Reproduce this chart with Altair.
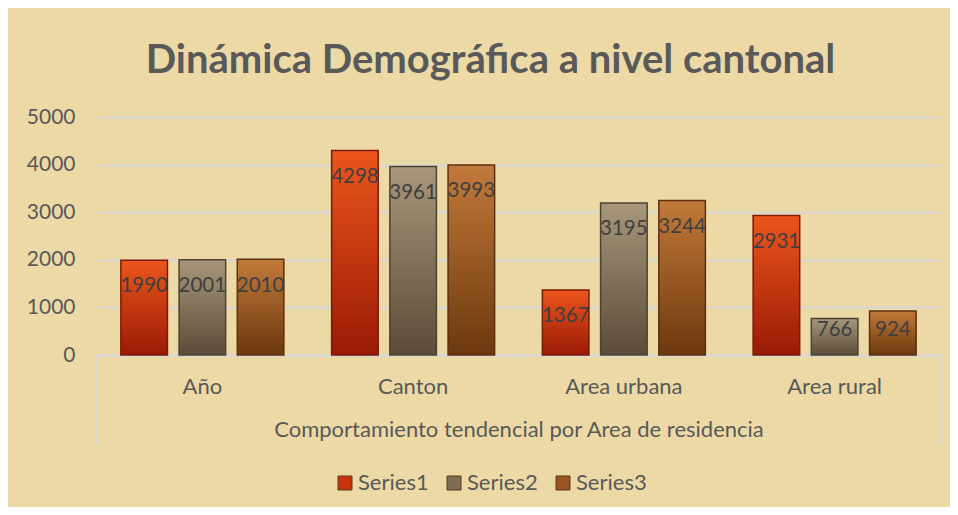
import altair as alt
import pandas as pd

categories = ["Año", "Canton", "Area urbana", "Area rural"]
series_names = ["Series1", "Series2", "Series3"]
series1 = [1990, 4298, 1367, 2931]
series2 = [2001, 3961, 3195, 766]
series3 = [2010, 3993, 3244, 924]
y_ticks = [0, 1000, 2000, 3000, 4000, 5000]

solid = ["#C8320F", "#7D6D55", "#9A5520"]
grad = {
    "Series1": ("#EC561C", "#9A1A06", "#7A1A08"),
    "Series2": ("#A8977B", "#5A4C38", "#4E4232"),
    "Series3": ("#C27A3A", "#6C380E", "#5A300E"),
}

rows = []
for name, vals in zip(series_names, [series1, series2, series3]):
    for c, v in zip(categories, vals):
        rows.append({"cat": c, "series": name, "value": v})
df = pd.DataFrame(rows)

FONT = "Lato"
GREY = "#595959"

x = alt.X(
    "cat:N",
    sort=categories,
    scale=alt.Scale(paddingInner=0.2266, paddingOuter=0.1133),
    axis=alt.Axis(
        title="Comportamiento tendencial por Area de residencia",
        labelAngle=0, labelFontSize=22, labelColor=GREY, labelFont=FONT,
        labelPadding=21, titleFontSize=22, titleColor=GREY, titleFont=FONT,
        titleFontWeight="normal", titlePadding=22,
        domainColor="#D9D9D9", domainWidth=2, ticks=False,
    ),
)
xo = alt.XOffset("series:N", scale=alt.Scale(domain=series_names, paddingInner=0.2, paddingOuter=0))
y = alt.Y(
    "value:Q",
    scale=alt.Scale(domain=[0, 5000]),
    axis=alt.Axis(
        values=y_ticks, format="d", title=None, grid=True, gridColor="#D6D6D6", gridWidth=2,
        domain=False, ticks=False, labelPadding=22, labelFontSize=21,
        labelColor=GREY, labelFont=FONT,
    ),
)

base = alt.Chart(df)

bars = base.mark_bar().encode(
    x=x, xOffset=xo, y=y,
    color=alt.Color(
        "series:N",
        scale=alt.Scale(domain=series_names, range=solid),
        legend=alt.Legend(
            title=None, orient="none", legendX=237, legendY=355,
            direction="horizontal", symbolType="square", symbolSize=196,
            symbolStrokeColor="#5a3a20", symbolStrokeWidth=1,
            labelFontSize=22, labelColor=GREY, labelFont=FONT,
            columnPadding=14, labelOffset=2,
        ),
    ),
)

layers = [bars]
for s in series_names:
    top, bot, edge = grad[s]
    layers.append(
        base.transform_filter(alt.datum.series == s).mark_bar(
            color=alt.Gradient(
                gradient="linear",
                stops=[alt.GradientStop(color=top, offset=0), alt.GradientStop(color=bot, offset=1)],
                x1=0, x2=0, y1=0, y2=1,
            ),
            stroke=edge, strokeWidth=1.5,
        ).encode(x=x, xOffset=xo, y=y)
    )

labels = base.transform_calculate(
    label_y="max(datum.value - 550, 525)"
).mark_text(baseline="middle", fontSize=20.5, font=FONT, color="#404040").encode(
    x=x, xOffset=xo, y=alt.Y("label_y:Q", scale=alt.Scale(domain=[0, 5000])),
    text=alt.Text("value:Q", format="d"),
)
layers.append(labels)

edge_data = alt.Data(values=[{"k": 1}])
left_line = alt.Chart(edge_data).mark_rule(color="#D9D9D9", strokeWidth=2).encode(
    x=alt.value(0), y=alt.value(238), y2=alt.value(328)
)
right_line = alt.Chart(edge_data).mark_rule(color="#D9D9D9", strokeWidth=2).encode(
    x=alt.value(843), y=alt.value(238), y2=alt.value(328)
)
layers += [left_line, right_line]

chart = alt.layer(*layers).properties(
    width=843, height=238,
    title=alt.Title(
        "Dinámica Demográfica a nivel cantonal",
        fontSize=40, fontWeight="bold", color=GREY, font=FONT,
        anchor="middle", dx=-28, offset=25,
    ),
    background="#ECD9A6",
    autosize=alt.AutoSizeParams(type="none"),
    padding={"left": 89, "top": 109, "right": 10, "bottom": 152},
).configure_view(stroke=None)

chart.save("out.html", embed_options={"renderer": "svg", "actions": False})
